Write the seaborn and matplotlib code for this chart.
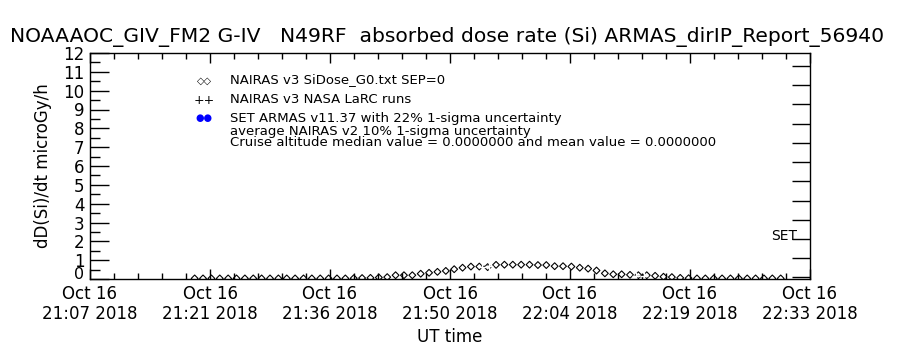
import numpy as np
import pandas as pd
import matplotlib
matplotlib.use("Agg")
import matplotlib.pyplot as plt
import seaborn as sns

# ---------------- data ----------------
title = "NOAAAOC_GIV_FM2 G-IV   N49RF  absorbed dose rate (Si) ARMAS_dirIP_Report_56940"
ylabel = "dD(Si)/dt microGy/h"
xlabel = "UT time"

# NAIRAS v3 SiDose (diamonds), one value per minute starting 21:20 UT
nairas_start = "2018-10-16 21:20:00"
nairas_dose = [0.03, 0.03, 0.03, 0.03, 0.03, 0.03, 0.03, 0.03, 0.03, 0.03,
               0.03, 0.03, 0.03, 0.03, 0.03, 0.03, 0.03, 0.03, 0.03, 0.04,
               0.05, 0.06, 0.08, 0.10, 0.20, 0.20, 0.20, 0.28, 0.33, 0.38,
               0.43, 0.52, 0.60, 0.66, 0.66, 0.63, 0.75, 0.76, 0.76, 0.76,
               0.76, 0.74, 0.74, 0.68, 0.68, 0.66, 0.60, 0.55, 0.45, 0.30,
               0.25, 0.25, 0.22, 0.20, 0.20, 0.17, 0.12, 0.10, 0.06, 0.04,
               0.03, 0.03, 0.03, 0.03, 0.03, 0.03, 0.03, 0.03, 0.03, 0.03,
               0.03]

# NAIRAS v3 NASA LaRC runs (plus signs)
larc_times = ["2018-10-16 21:54:20", "2018-10-16 21:55:10",
              "2018-10-16 22:12:40", "2018-10-16 22:13:40"]
larc_dose = [0.66, 0.68, 0.15, 0.15]
larc_group = [1, 1, 2, 2]

# axis ticks
xtick_times = ["2018-10-16 21:07:30", "2018-10-16 21:21:50", "2018-10-16 21:36:10",
               "2018-10-16 21:50:30", "2018-10-16 22:04:50", "2018-10-16 22:19:10",
               "2018-10-16 22:33:30"]
xtick_labels = ["Oct 16\n21:07 2018", "Oct 16\n21:21 2018", "Oct 16\n21:36 2018",
                "Oct 16\n21:50 2018", "Oct 16\n22:04 2018", "Oct 16\n22:19 2018",
                "Oct 16\n22:33 2018"]
yticks = list(range(0, 13))

legend_lines = ["NAIRAS v3 SiDose_G0.txt SEP=0",
                "NAIRAS v3 NASA LaRC runs",
                "SET ARMAS v11.37 with 22% 1-sigma uncertainty",
                "average NAIRAS v2 10% 1-sigma uncertainty",
                "Cruise altitude median value = 0.0000000 and mean value = 0.0000000"]

# ---------------- build tables ----------------
nairas_df = pd.DataFrame({
    "time": pd.date_range(nairas_start, periods=len(nairas_dose), freq="min"),
    "dose": nairas_dose,
})
larc_df = pd.DataFrame({"time": pd.to_datetime(larc_times), "dose": larc_dose,
                        "grp": larc_group})
xticks = pd.to_datetime(xtick_times)

# ---------------- figure ----------------
sns.set_style("white")
plt.rcParams["font.family"] = ["DejaVu Sans"]
plt.rcParams["text.color"] = "black"
plt.rcParams["axes.labelcolor"] = "black"
plt.rcParams["xtick.color"] = "black"
plt.rcParams["ytick.color"] = "black"
plt.rcParams["axes.edgecolor"] = "black"

fig = plt.figure(figsize=(9, 3.5), dpi=100)
ax = fig.add_axes([90 / 900, 1 - 279 / 350, 720 / 900, 226 / 350])

sns.scatterplot(data=nairas_df, x="time", y="dose", ax=ax, marker="D", s=12,
                facecolor="none", edgecolor="black", linewidth=0.8, legend=False,
                clip_on=True)
for g, sub in larc_df.groupby("grp"):
    sns.lineplot(data=sub, x="time", y="dose", ax=ax, color="black", marker="+",
                 markersize=6, markeredgewidth=1, linewidth=1, legend=False)

ax.set_xlim(xticks[0], xticks[-1])
ax.set_ylim(0, 12)

ax.set_xticks(xticks)
ax.set_xticklabels(xtick_labels, fontsize=12)
minor = []
for a, b in zip(xticks[:-1], xticks[1:]):
    step = (b - a) / 5
    for i in range(1, 5):
        minor.append(a + step * i)
ax.set_xticks(minor, minor=True)

ax.set_yticks(yticks)
ax.set_yticklabels(["" if v == 0 else str(v) for v in yticks], fontsize=12)
ax.set_yticks(np.arange(0.5, 12, 1.0), minor=True)
# the zero label sits slightly above its tick, as in the original
ax.annotate(str(yticks[0]), xy=(0, yticks[0]), xycoords=ax.get_yaxis_transform(),
            xytext=(-4, 3.5), textcoords="offset points", ha="right", va="center",
            fontsize=11.5)

ax.tick_params(axis="x", which="major", direction="in", length=7, width=1,
               top=True, bottom=True, pad=4)
ax.tick_params(axis="x", which="minor", direction="in", length=4, width=1,
               top=True, bottom=True)
ax.tick_params(axis="y", which="major", direction="in", length=14, width=1,
               left=True, right=False, pad=4)
ax.tick_params(axis="y", which="minor", direction="in", length=7, width=1,
               left=True, right=False)

for sp in ax.spines.values():
    sp.set_visible(True)
    sp.set_color("black")
    sp.set_linewidth(1)

ax.set_xlabel(xlabel, fontsize=12, labelpad=3)
ax.set_ylabel(ylabel, fontsize=12, labelpad=8)

# right axis (SET)
ax2 = ax.twinx()
ax2.set_ylim(-0.08, 11.67)
ax2.set_yticks(range(0, 12))
ax2.set_yticklabels([])
ax2.tick_params(axis="y", direction="in", length=13, width=1, right=True)
ax2.grid(False)
for sp in ax2.spines.values():
    sp.set_visible(False)
ax2.text(0.982, 1.95, "SET", transform=ax2.get_yaxis_transform(),
         ha="right", va="baseline", fontsize=10)

ax.grid(False)

# title
fig.text(0.497, 1 - 37 / 350, title, ha="center", va="center", fontsize=14.6)

# legend-like annotations
sym_x = 204 / 900
txt_x = 230 / 900
ys = [80, 99, 118, 131, 142]
fig.text(sym_x, 1 - 81 / 350, "\u25c7\u25c7", ha="center", va="center", fontsize=7)
fig.text(sym_x, 1 - 100 / 350, "++", ha="center", va="center", fontsize=9)
fig.text(sym_x, 1 - 118 / 350, "\u25cf\u25cf", ha="center", va="center", fontsize=7,
         color="#0000ff")
for y, t in zip(ys, legend_lines):
    fig.text(txt_x, 1 - y / 350, t, ha="left", va="center", fontsize=9.5)

fig.savefig("out.png", dpi=100)
